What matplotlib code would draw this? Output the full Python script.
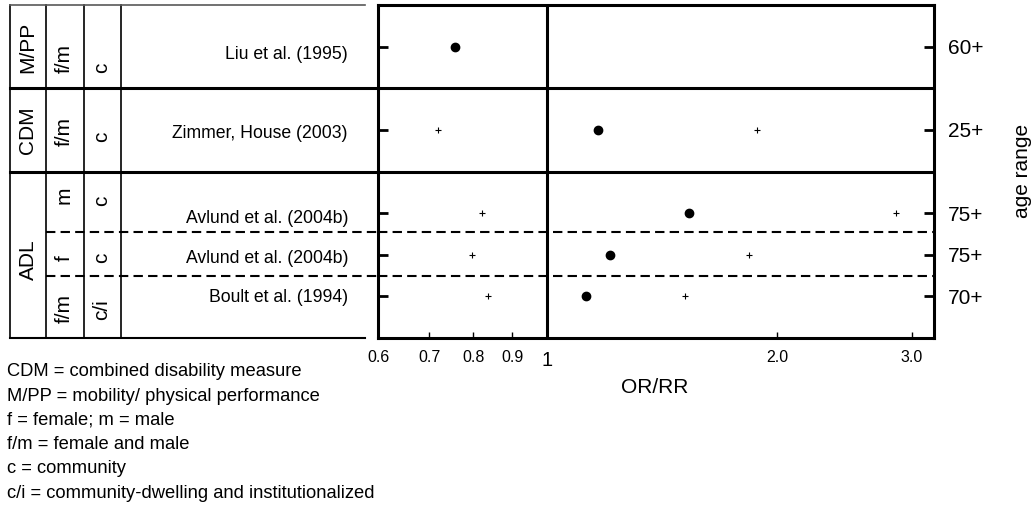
import numpy as np
import matplotlib.pyplot as plt
from matplotlib.ticker import NullLocator

plt.rcParams['font.family'] = ['Liberation Sans', 'DejaVu Sans']

# studies, top to bottom
studies = ["Liu et al. (1995)", "Zimmer, House (2003)", "Avlund et al. (2004b)",
           "Avlund et al. (2004b)", "Boult et al. (1994)"]
sex = ["f/m", "f/m", "m", "f", "f/m"]
setting = ["c", "c", "c", "c", "c/i"]
age = ["60+", "25+", "75+", "75+", "70+"]
rows = [7, 5, 3, 2, 1]

# outcome groups
groups = ["M/PP", "CDM", "ADL"]
group_edges = [8, 6, 4, 0]

# point estimates and confidence limits
est = [0.756, 1.164, 1.531, 1.209, 1.123]
lower = [np.nan, 0.718, 0.821, 0.797, 0.835]
upper = [np.nan, 1.884, 2.862, 1.839, 1.515]

xticks = [0.6, 0.7, 0.8, 0.9, 1, 2, 3]
xticklabels = ["0.6", "0.7", "0.8", "0.9", "1", "2.0", "3.0"]

notes = ["CDM = combined disability measure",
         "M/PP = mobility/ physical performance",
         "f = female; m = male",
         "f/m = female and male",
         "c = community",
         "c/i = community-dwelling and institutionalized"]

# text placement inside the table (y in row units)
group_y = [6.97, 5.0, 1.87]
sex_y = [6.71, 4.95, 3.43, 1.92, 0.72]
setting_y = [6.49, 4.83, 3.29, 1.92, 0.67]
study_y = [6.82, 4.92, 2.88, 1.92, 0.98]
dash_y = [2.55, 1.5]

W, H = 1034, 511
fig = plt.figure(figsize=(W / 100, H / 100), dpi=100)
y0, y1 = 1 - 338 / H, 1 - 5 / H

# ---- forest plot
ax = fig.add_axes([378 / W, y0, (934 - 378) / W, y1 - y0])
ax.set_xscale('log')
ax.set_xlim(0.6, 3.21)
ax.set_ylim(0, 8)
for s in ax.spines.values():
    s.set_linewidth(2.2)
ax.axvline(1, color='k', lw=2.2)
for e in group_edges[1:-1]:
    ax.axhline(e, color='k', lw=2.2)
for d in dash_y:
    ax.axhline(d, color='k', lw=1.5, ls=(0, (4.5, 2.5)))

ax.plot(est, rows, 'o', ms=6, color='k')
ax.plot(lower, rows, '+', ms=5, mew=0.8, color='k')
ax.plot(upper, rows, '+', ms=5, mew=0.8, color='k')

ax.xaxis.set_minor_locator(NullLocator())
ax.set_xticks(xticks)
ax.set_xticklabels(xticklabels)
ax.tick_params(axis='x', direction='in', length=4, width=1, labelsize=11.5, pad=9)
ax.get_xticklabels()[4].set_fontsize(14.5)

ax.set_yticks(rows)
ax.set_yticklabels(age)
ax.tick_params(axis='y', direction='in', length=7, width=2, left=True, right=True,
               labelleft=False, labelright=True, labelsize=15, pad=10)

fig.text(655 / W, 1 - 387 / H, "OR/RR", ha='center', va='center', fontsize=15)
fig.text(1022 / W, 1 - 171 / H, "age range", ha='center', va='center',
         rotation=90, fontsize=15)

# ---- table on the left
tab = fig.add_axes([0, y0, 378 / W, y1 - y0])
tab.set_xlim(0, 378)
tab.set_ylim(0, 8)
tab.axis('off')

for xc in [10, 46, 84, 121]:
    tab.plot([xc, xc], [0, 8], color='k', lw=1.2, clip_on=False)
tab.plot([10, 365], [8, 8], color='0.35', lw=1.2, clip_on=False)
tab.plot([10, 365], [0, 0], color='k', lw=1.5, clip_on=False)
for e in group_edges[1:-1]:
    tab.plot([10, 378], [e, e], color='k', lw=2.2, clip_on=False)
for d in dash_y:
    tab.plot([46, 378], [d, d], color='k', lw=1.5, ls=(0, (4.5, 2.5)), clip_on=False)

for g, gy in zip(groups, group_y):
    tab.text(28, gy, g, rotation=90, ha='center', va='center', fontsize=15)
for i in range(len(studies)):
    tab.text(64, sex_y[i], sex[i], rotation=90, ha='center', va='center', fontsize=15)
    tab.text(102, setting_y[i], setting[i], rotation=90, ha='center', va='center', fontsize=15)
    tab.text(348, study_y[i], studies[i], ha='right', va='center', fontsize=12.7)

for i, line in enumerate(notes):
    fig.text(7 / W, 1 - (372 + 24.2 * i) / H, line, ha='left', va='center', fontsize=13.2)

fig.savefig("out.png", dpi=100)
